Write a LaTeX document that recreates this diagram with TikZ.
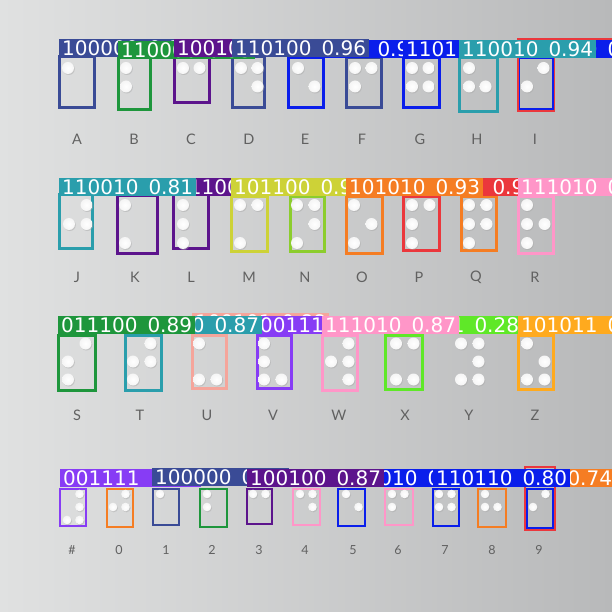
\documentclass[tikz,border=0pt]{standalone}
\usepackage{fontspec}
\usepackage{xcolor}
\usepackage{tikz}
\usetikzlibrary{positioning}
\newfontfamily\tagfont{DejaVu Sans}
\newfontfamily\capfont{Lato}
\definecolor{bgl}{RGB}{224,225,225}
\definecolor{bgr}{RGB}{184,185,186}
\definecolor{navy}{RGB}{58,75,150}
\definecolor{grn}{RGB}{30,150,60}
\definecolor{purp}{RGB}{92,20,140}
\definecolor{blu}{RGB}{10,30,235}
\definecolor{teal}{RGB}{42,158,172}
\definecolor{ygrn}{RGB}{205,210,55}
\definecolor{lime}{RGB}{140,205,45}
\definecolor{orng}{RGB}{245,125,35}
\definecolor{pred}{RGB}{235,55,60}
\definecolor{pink}{RGB}{255,150,200}
\definecolor{salm}{RGB}{245,165,155}
\definecolor{viol}{RGB}{135,60,245}
\definecolor{bgrn}{RGB}{95,232,40}
\definecolor{ambr}{RGB}{255,170,30}
\newcommand{\tg}[2]{#1\enspace#2}
\newcommand{\cellrow}[6]{%
  \foreach \xa/\ya/\xb/\yb/\col/\lx/\dl in {#6}{
    \draw[line width=#5,draw=\col] (\xa,\ya) rectangle (\xb,\yb);
    \foreach \d in \dl{
      \pgfmathtruncatemacro\cc{\d>3}
      \pgfmathtruncatemacro\rr{mod(\d-1,3)}
      \pgfmathsetmacro\px{\lx+\cc*#2}
      \pgfmathsetmacro\py{#1+\rr*#3}
      \fill[brshadow] (\px+0.8,\py+1) circle[radius=#4pt];
      \shade[brdot] (\px,\py) circle[radius=#4pt];}}}

\begin{document}
\begin{tikzpicture}[x=1pt,y=-1pt,
  brdot/.style={inner color=white,outer color=black!4},
  brshadow/.style={black!35,opacity=.45},
  tag/.style={anchor=south west,text=white,font=\tagfont\fontsize{20}{20}\selectfont,
    inner xsep=3pt,inner ysep=0pt,minimum height=18pt,text height=14.6pt,text depth=0pt},
  letter/.style={font=\capfont\fontsize{14.5}{15}\selectfont,text=black!62},
  digit/.style={font=\capfont\fontsize{12.5}{13}\selectfont,text=black!62},
  hit/.style={draw=pred,line width=1.4pt}]
\useasboundingbox (0,0) rectangle (612,612);
\clip (0,0) rectangle (612,612);
\shade[left color=bgl,right color=bgr] (0,0) rectangle (612,612);

% braille cells and their boxes
\cellrow{68}{16.5}{18.5}{6}{3pt}{59/57/94/108/navy/68/{1},118/58/150/110/grn/126/{1,2},
  174/56/209/103/purp/183/{1,4},232/57/264/108/navy/241/{1,4,5},288/58/323/108/blu/298/{1,5},
  346/58/381/108/navy/355/{1,2,4},403/58/439/108/blu/412/{1,2,4,5},459/58/497/112/teal/469/{1,2,5},
  518/58/553/110/blu/527/{2,4}}
\cellrow{205}{17.5}{19}{6}{3pt}{59/195/92/248/teal/69/{2,4,5},117/196/157/253/purp/125/{1,3},
  173/195/208/248/purp/183/{1,2,3},231/197/267/251/ygrn/240/{1,3,4},290/197/324/251/lime/297/{1,3,4,5},
  346/197/382/253/orng/354/{1,3,5},403/197/439/250/pred/412/{1,2,3,4},461/197/496/250/orng/469/{1,2,3,4,5},
  518/197/553/253/pink/527/{1,2,3,5}}
\cellrow{343.5}{17.5}{18}{6}{3pt}{58/335/95/390/grn/68/{2,3,4},125/335/161/390/teal/133/{2,3,4,5},
  192/335/226/388/salm/199/{1,3,6},257/335/291/388/viol/264/{1,2,3,6},322/335/357/390/pink/331/{2,4,5,6},
  385/335/422/389/bgrn/396/{1,3,4,6},452/335/487/389/none/461/{1,3,4,5,6},518/335/553/389/ambr/527/{1,3,5,6}}
\cellrow{494}{12.5}{13}{4.3}{2.6pt}{60/489/86/526/viol/67/{3,4,5,6},107/489/133/527/orng/113/{2,4,5},
  153/489/179/525/navy/160/{1},200/489/227/527/grn/207/{1,2},247/489/272/524/purp/253/{1,4},
  293/489/320/525/pink/300/{1,4,5},338/489/365/526/blu/346/{1,5},385/489/413/525/pink/392/{1,2,4},
  433/489/459/526/blu/439/{1,2,4,5},478/489/506/527/orng/485/{1,2,5},527/489/553/528/blu/533/{2,4}}
\draw[hit] (518,39) rectangle (554.5,111);
\draw[hit] (554.5,39) -- (612,39);
\draw[hit] (525,467) rectangle (555,530);

% detection tags, later ones cover earlier ones
\node[tag,fill=navy] (tagA) at (59,57) {\tg{100000}{0.95}};
\node[tag,fill=grn] (tagB) at (118,59) {\tg{110000}{0.93}};
\node[tag,fill=purp] (tagC) at (174,57) {\tg{100100}{0.91}};
\node[tag,fill=blu] (tagE) at (288,58) {\tg{100010}{0.95}};
\node[tag,fill=navy] (tagD) at (232,57) {\tg{110100}{0.96}};
\node[tag,fill=blu] (tagI) at (518,58) {\tg{010100}{0.92}};
\node[tag,fill=blu] (tagG) at (403,58) {\tg{110110}{0.95}};
\node[tag,fill=teal] (tagH) at (459,58) {\tg{110010}{0.94}};

\node[tag,fill=purp] (tagL) at (173,196) {\tg{111000}{0.86}};
\node[tag,fill=teal] (tagJ) at (59,196) {\tg{110010}{0.81}};
\node[tag,fill=ygrn] (tagM) at (231,196) {\tg{101100}{0.91}};
\node[tag,fill=pred] (tagP) at (403,196) {\tg{111100}{0.91}};
\node[tag,fill=orng] (tagO) at (346,196) {\tg{101010}{0.93}};
\node[tag,fill=pink] (tagR) at (518,196) {\tg{111010}{0.95}};

\node[tag,fill=salm] (tagU) at (192,331) {\tg{100101}{0.88}};
\node[tag,fill=viol] (tagV) at (257,334) {\tg{001111}{0.85}};
\node[tag,fill=teal] (tagT) at (125,334) {\tg{011110}{0.87}};
\node[tag,fill=grn] (tagS) at (58,334) {\tg{011100}{0.89}};
\node[tag,fill=bgrn] (tagX) at (385,334) {\tg{101101}{0.28}};
\node[tag,fill=pink] (tagW) at (322,334) {\tg{111010}{0.87}};
\node[tag,fill=ambr] (tagZ) at (518,334) {\tg{101011}{0.93}};

\node[tag,fill=viol] (tagHash) at (60,487) {\tg{001111}{\hspace{4pt}0.90}};
\node[tag,fill=navy] (tagOne) at (152,486) {\tg{100000}{0.92}};
\node[tag,fill=blu] (tagFive) at (338,487) {\tg{100010}{0.86}};
\node[tag,fill=purp] (tagThree) at (247,487) {\tg{100100}{0.87}};
\node[tag,fill=orng] (tagEight) at (478,487) {\tg{110010}{0.74}};
\node[tag,fill=blu] (tagSeven) at (433,487) {\tg{110110}{0.80}};

% printed letters under the cells
\foreach \ch/\xx in {A/77,B/134,C/191,D/249,E/305,F/362,G/420,H/477,I/535}
  \node[letter] (let\ch) at (\xx,139) {\ch};
\foreach \ch/\xx in {J/77,K/135,L/191,M/249,N/305,O/362,P/419,Q/476,R/535}
  \node[letter] (let\ch) at (\xx,277) {\ch};
\foreach \ch/\xx in {S/77,T/140,U/207,V/273,W/339,X/405,Y/469,Z/535}
  \node[letter] (let\ch) at (\xx,415) {\ch};
\node[digit] (numHash) at (72,550) {\#};
\foreach \ch/\xx in {0/119,1/166,2/212,3/259,4/305,5/353,6/398,7/445,8/492,9/539}
  \node[digit] (num\ch) at (\xx,550) {\ch};
\end{tikzpicture}
\end{document}
